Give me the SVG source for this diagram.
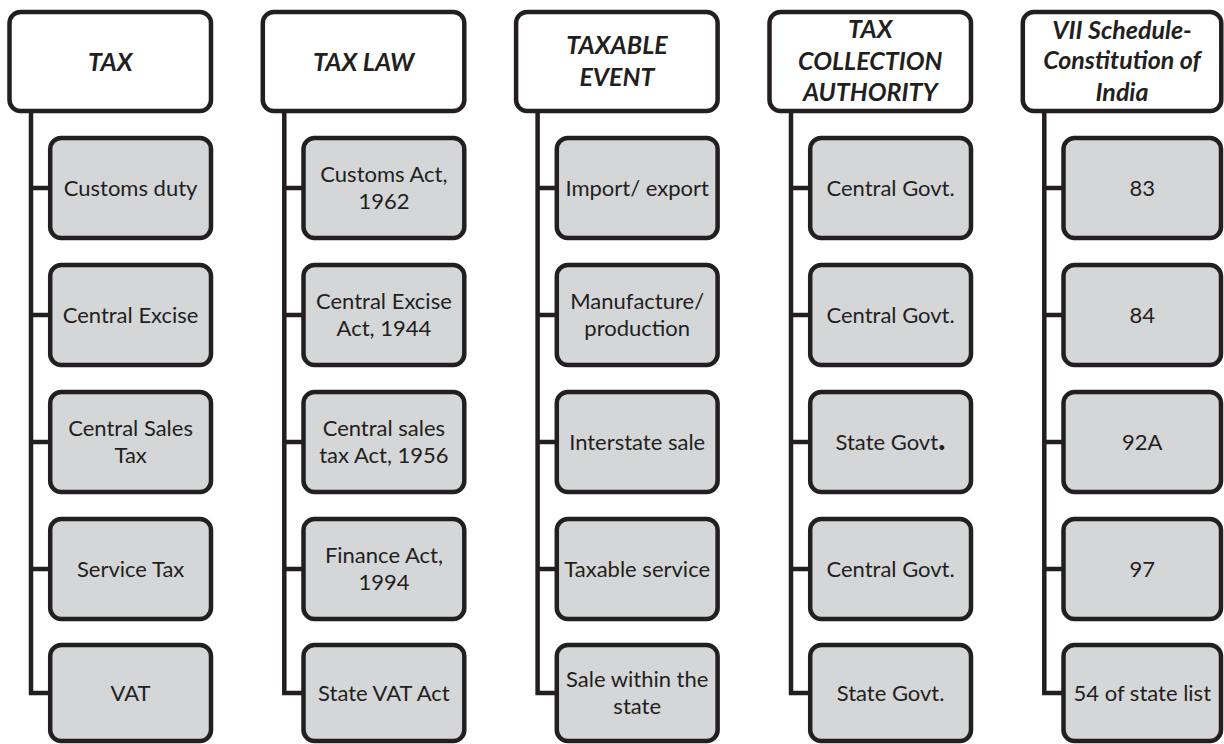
<svg xmlns="http://www.w3.org/2000/svg" width="1224" height="744" viewBox="0 0 1224 744">
<style>
.hdr{fill:#ffffff;stroke:#231f20;stroke-width:4.5}
.box{fill:#d5d6d8;stroke:#231f20;stroke-width:4.5}
.ht{font-family:Lato,"Liberation Sans",sans-serif;font-weight:bold;font-style:italic;font-size:25px;fill:#231f20;text-anchor:middle}
.bt{font-family:Lato,"Liberation Sans",sans-serif;font-size:22px;fill:#231f20;text-anchor:middle}
.con{fill:none;stroke:#231f20;stroke-width:4.5;stroke-linejoin:miter;stroke-linecap:butt}
</style>
<rect width="1224" height="744" fill="#ffffff"/>
<g id="connectors" class="con">
<path d="M31 111V693H50.2M31 188H50.2M31 315H50.2M31 442H50.2M31 569H50.2"/>
<path d="M284.3 111V693H303.5M284.3 188H303.5M284.3 315H303.5M284.3 442H303.5M284.3 569H303.5"/>
<path d="M537.6 111V693H556.8M537.6 188H556.8M537.6 315H556.8M537.6 442H556.8M537.6 569H556.8"/>
<path d="M791 111V693H810.2M791 188H810.2M791 315H810.2M791 442H810.2M791 569H810.2"/>
<path d="M1044.3 111V693H1063.5M1044.3 188H1063.5M1044.3 315H1063.5M1044.3 442H1063.5M1044.3 569H1063.5"/>
</g>
<!-- Column 1 -->
<g id="h-tax"><rect class="hdr" x="9.5" y="12" width="201.5" height="99" rx="11"/><text class="ht" x="110.3" y="70.5">TAX</text></g>
<g id="tax-1"><rect class="box" x="50.2" y="138" width="160.8" height="100" rx="11"/><text class="bt" x="130.6" y="195.5">Customs duty</text></g>
<g id="tax-2"><rect class="box" x="50.2" y="265" width="160.8" height="100" rx="11"/><text class="bt" x="130.6" y="322.5">Central Excise</text></g>
<g id="tax-3"><rect class="box" x="50.2" y="392" width="160.8" height="100" rx="11"/><text class="bt" x="130.6" y="436">Central Sales</text><text class="bt" x="130.6" y="462.5">Tax</text></g>
<g id="tax-4"><rect class="box" x="50.2" y="519" width="160.8" height="100" rx="11"/><text class="bt" x="130.6" y="576.5">Service Tax</text></g>
<g id="tax-5"><rect class="box" x="50.2" y="645" width="160.8" height="96" rx="11"/><text class="bt" x="130.6" y="700.5">VAT</text></g>
<!-- Column 2 -->
<g id="h-taxlaw"><rect class="hdr" x="262.8" y="12" width="201.5" height="99" rx="11"/><text class="ht" x="363.6" y="70.5">TAX LAW</text></g>
<g id="law-1"><rect class="box" x="303.5" y="138" width="160.8" height="100" rx="11"/><text class="bt" x="383.9" y="182">Customs Act,</text><text class="bt" x="383.9" y="208.5">1962</text></g>
<g id="law-2"><rect class="box" x="303.5" y="265" width="160.8" height="100" rx="11"/><text class="bt" x="383.9" y="309">Central Excise</text><text class="bt" x="383.9" y="335.5">Act, 1944</text></g>
<g id="law-3"><rect class="box" x="303.5" y="392" width="160.8" height="100" rx="11"/><text class="bt" x="383.9" y="436">Central sales</text><text class="bt" x="383.9" y="462.5">tax Act, 1956</text></g>
<g id="law-4"><rect class="box" x="303.5" y="519" width="160.8" height="100" rx="11"/><text class="bt" x="383.9" y="563">Finance Act,</text><text class="bt" x="383.9" y="589.5">1994</text></g>
<g id="law-5"><rect class="box" x="303.5" y="645" width="160.8" height="96" rx="11"/><text class="bt" x="383.9" y="700.5">State VAT Act</text></g>
<!-- Column 3 -->
<g id="h-event"><rect class="hdr" x="516.1" y="12" width="201.5" height="99" rx="11"/><text class="ht" x="616.9" y="54">TAXABLE</text><text class="ht" x="616.9" y="85.5">EVENT</text></g>
<g id="ev-1"><rect class="box" x="556.8" y="138" width="160.8" height="100" rx="11"/><text class="bt" x="637.2" y="195.5">Import/ export</text></g>
<g id="ev-2"><rect class="box" x="556.8" y="265" width="160.8" height="100" rx="11"/><text class="bt" x="637.2" y="309">Manufacture/</text><text class="bt" x="637.2" y="335.5">production</text></g>
<g id="ev-3"><rect class="box" x="556.8" y="392" width="160.8" height="100" rx="11"/><text class="bt" x="637.2" y="449.5">Interstate sale</text></g>
<g id="ev-4"><rect class="box" x="556.8" y="519" width="160.8" height="100" rx="11"/><text class="bt" x="637.2" y="576.5">Taxable service</text></g>
<g id="ev-5"><rect class="box" x="556.8" y="645" width="160.8" height="96" rx="11"/><text class="bt" x="637.2" y="687">Sale within the</text><text class="bt" x="637.2" y="713.5">state</text></g>
<!-- Column 4 -->
<g id="h-authority"><rect class="hdr" x="769.5" y="12" width="201.5" height="99" rx="11"/><text class="ht" x="870.3" y="38">TAX</text><text class="ht" x="870.3" y="69.5">COLLECTION</text><text class="ht" x="870.3" y="100.5">AUTHORITY</text></g>
<g id="au-1"><rect class="box" x="810.2" y="138" width="160.8" height="100" rx="11"/><text class="bt" x="890.6" y="195.5">Central Govt.</text></g>
<g id="au-2"><rect class="box" x="810.2" y="265" width="160.8" height="100" rx="11"/><text class="bt" x="890.6" y="322.5">Central Govt.</text></g>
<g id="au-3"><rect class="box" x="810.2" y="392" width="160.8" height="100" rx="11"/><text class="bt" x="890.6" y="449.5">State Govt<tspan font-size="32px" font-weight="bold">.</tspan></text></g>
<g id="au-4"><rect class="box" x="810.2" y="519" width="160.8" height="100" rx="11"/><text class="bt" x="890.6" y="576.5">Central Govt.</text></g>
<g id="au-5"><rect class="box" x="810.2" y="645" width="160.8" height="96" rx="11"/><text class="bt" x="890.6" y="700.5">State Govt.</text></g>
<!-- Column 5 -->
<g id="h-schedule"><rect class="hdr" x="1022.8" y="12" width="198.5" height="99" rx="11"/><text class="ht" x="1122" y="38.5">VII Schedule-</text><text class="ht" x="1122" y="69">Constitution of</text><text class="ht" x="1122" y="100.5">India</text></g>
<g id="sc-1"><rect class="box" x="1063.5" y="138" width="157.5" height="100" rx="11"/><text class="bt" x="1142.3" y="195.5">83</text></g>
<g id="sc-2"><rect class="box" x="1063.5" y="265" width="157.5" height="100" rx="11"/><text class="bt" x="1142.3" y="322.5">84</text></g>
<g id="sc-3"><rect class="box" x="1063.5" y="392" width="157.5" height="100" rx="11"/><text class="bt" x="1142.3" y="449.5">92A</text></g>
<g id="sc-4"><rect class="box" x="1063.5" y="519" width="157.5" height="100" rx="11"/><text class="bt" x="1142.3" y="576.5">97</text></g>
<g id="sc-5"><rect class="box" x="1063.5" y="645" width="157.5" height="96" rx="11"/><text class="bt" x="1142.3" y="700.5">54 of state list</text></g>
</svg>
